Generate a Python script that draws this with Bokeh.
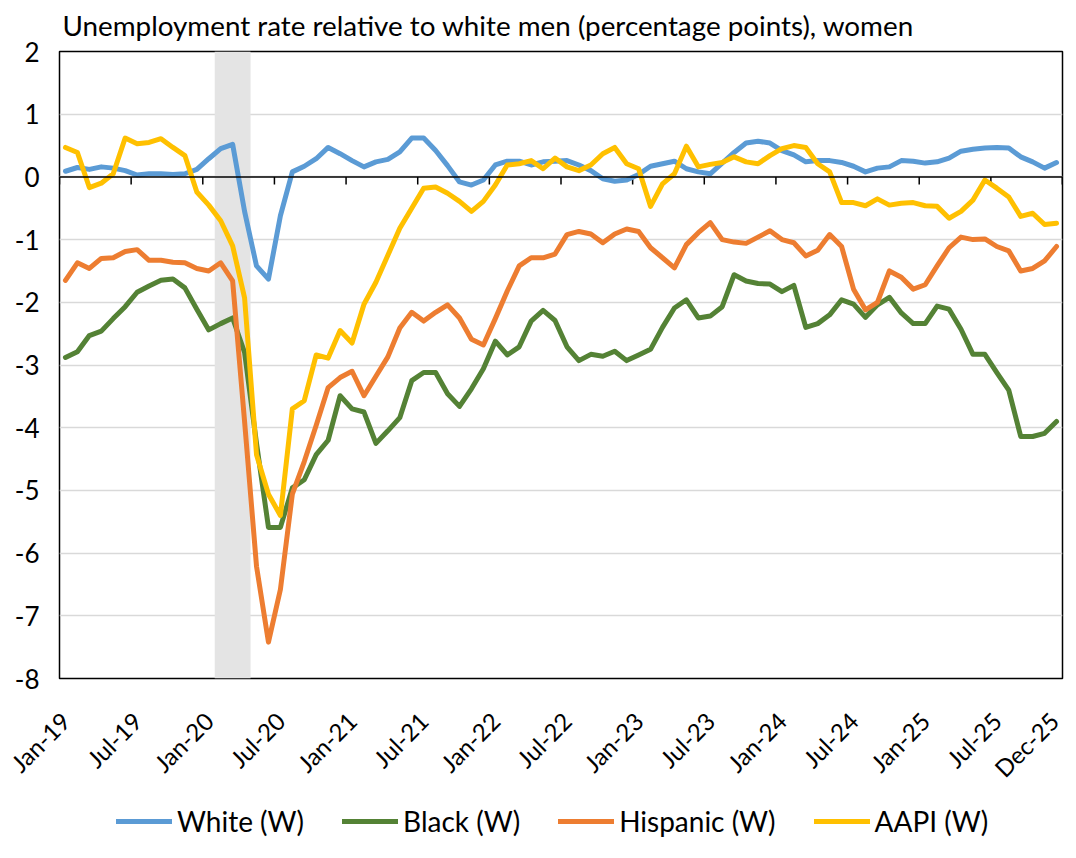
import pandas as pd
from bokeh.plotting import figure
from bokeh.layouts import column
from bokeh.models import BoxAnnotation, Span, Legend, LegendItem, FixedTicker, ColumnDataSource
from bokeh.embed import file_html
from bokeh.resources import INLINE

# ---------------- data ----------------
months = [d.strftime("%b-%y") for d in pd.date_range("2019-01-01", "2025-12-01", freq="MS")]
tick_labels = ["Jan-19", "Jul-19", "Jan-20", "Jul-20", "Jan-21", "Jul-21", "Jan-22", "Jul-22",
               "Jan-23", "Jul-23", "Jan-24", "Jul-24", "Jan-25", "Jul-25", "Dec-25"]
y_ticks = [2, 1, 0, -1, -2, -3, -4, -5, -6, -7, -8]
y_tick_labels = ["2", "1", "0", "-1", "-2", "-3", "-4", "-5", "-6", "-7", "-8"]
recession = ["Feb-20", "Apr-20"]

white = [0.09, 0.15, 0.12, 0.16, 0.14, 0.10, 0.03, 0.05, 0.05, 0.04, 0.05, 0.12,
         0.29, 0.45, 0.52, -0.55, -1.42, -1.63, -0.62, 0.08, 0.17, 0.29, 0.47, 0.37,
         0.26, 0.16, 0.24, 0.28, 0.40, 0.62, 0.62, 0.42, 0.18, -0.08, -0.13, -0.05,
         0.19, 0.25, 0.25, 0.19, 0.24, 0.25, 0.26, 0.19, 0.10, -0.03, -0.07, -0.05,
         0.04, 0.17, 0.21, 0.25, 0.13, 0.08, 0.05, 0.22, 0.39, 0.54, 0.57, 0.54,
         0.42, 0.35, 0.24, 0.26, 0.26, 0.23, 0.17, 0.08, 0.14, 0.16, 0.26, 0.25,
         0.22, 0.24, 0.30, 0.41, 0.44, 0.46, 0.47, 0.46, 0.32, 0.24, 0.14, 0.23]

black = [-2.88, -2.79, -2.53, -2.46, -2.26, -2.07, -1.84, -1.74, -1.65, -1.63, -1.77, -2.11,
         -2.44, -2.34, -2.25, -2.80, -4.25, -5.59, -5.59, -4.96, -4.83, -4.43, -4.20, -3.49,
         -3.70, -3.75, -4.25, -4.05, -3.84, -3.25, -3.12, -3.12, -3.46, -3.66, -3.38, -3.06,
         -2.62, -2.84, -2.71, -2.30, -2.13, -2.29, -2.71, -2.93, -2.83, -2.86, -2.78, -2.93,
         -2.84, -2.75, -2.40, -2.09, -1.96, -2.25, -2.22, -2.07, -1.56, -1.66, -1.70, -1.71,
         -1.83, -1.73, -2.40, -2.34, -2.20, -1.96, -2.03, -2.24, -2.04, -1.92, -2.17, -2.34,
         -2.34, -2.06, -2.11, -2.43, -2.83, -2.83, -3.12, -3.40, -4.14, -4.14, -4.09, -3.90]

hispanic = [-1.65, -1.37, -1.46, -1.30, -1.29, -1.19, -1.16, -1.33, -1.33, -1.36, -1.37, -1.46,
            -1.50, -1.37, -1.66, -3.90, -6.21, -7.42, -6.58, -5.06, -4.54, -3.96, -3.36, -3.20,
            -3.10, -3.49, -3.18, -2.87, -2.41, -2.16, -2.30, -2.16, -2.04, -2.25, -2.59, -2.68,
            -2.26, -1.82, -1.42, -1.29, -1.29, -1.23, -0.92, -0.87, -0.91, -1.05, -0.91, -0.83,
            -0.87, -1.13, -1.29, -1.45, -1.08, -0.89, -0.73, -1.00, -1.04, -1.06, -0.96, -0.86,
            -1.00, -1.05, -1.26, -1.17, -0.92, -1.11, -1.79, -2.12, -2.00, -1.50, -1.60, -1.79,
            -1.72, -1.42, -1.13, -0.96, -1.00, -0.99, -1.11, -1.18, -1.50, -1.46, -1.34, -1.11]

aapi = [0.47, 0.39, -0.17, -0.10, 0.05, 0.62, 0.53, 0.55, 0.61, 0.47, 0.34, -0.24,
        -0.45, -0.70, -1.10, -1.93, -4.43, -5.06, -5.40, -3.70, -3.57, -2.84, -2.89, -2.45,
        -2.65, -2.03, -1.68, -1.25, -0.82, -0.50, -0.18, -0.16, -0.26, -0.39, -0.55, -0.39,
        -0.13, 0.19, 0.21, 0.26, 0.13, 0.30, 0.16, 0.10, 0.19, 0.37, 0.47, 0.21,
        0.13, -0.47, -0.11, 0.05, 0.49, 0.16, 0.20, 0.23, 0.32, 0.24, 0.21, 0.34,
        0.45, 0.50, 0.47, 0.21, 0.08, -0.41, -0.41, -0.46, -0.35, -0.45, -0.42, -0.41,
        -0.46, -0.47, -0.66, -0.55, -0.37, -0.05, -0.18, -0.32, -0.63, -0.58, -0.76, -0.74]

series = [("White (W)", white, "#5B9BD5"),
          ("Black (W)", black, "#548235"),
          ("Hispanic (W)", hispanic, "#ED7D31"),
          ("AAPI (W)", aapi, "#FFC000")]

# ---------------- main figure ----------------
FONT = "Lato"
n = len(months)
x = list(range(n))

p = figure(width=1064, height=798, output_backend="svg", toolbar_location=None,
           x_range=(-0.5, n - 0.5), y_range=(min(y_ticks), max(y_ticks)),
           min_border_left=59, min_border_right=2, min_border_top=44, min_border_bottom=120)

p.title.text = "Unemployment rate relative to white men (percentage points), women"
p.title.text_font = FONT
p.title.text_font_size = "27.8px"
p.title.text_font_style = "normal"
p.title.text_color = "black"
p.title.offset = 3
p.title.standoff = 16
p.title.vertical_align = "top"

p.outline_line_color = "black"
p.outline_line_width = 1.5
p.background_fill_color = "white"
p.border_fill_color = "white"

p.xgrid.grid_line_color = None
p.ygrid.grid_line_color = "#d9d9d9"
p.ygrid.grid_line_width = 1.5

# recession shading
rs, re_ = months.index(recession[0]), months.index(recession[1])
p.add_layout(BoxAnnotation(left=rs - 0.5, right=re_ + 0.5, fill_color="#e4e4e4",
                           fill_alpha=1.0, line_color=None, level="underlay"))

# axes
p.yaxis.ticker = FixedTicker(ticks=y_ticks)
p.yaxis.major_label_overrides = {v: s for v, s in zip(y_ticks, y_tick_labels)}
p.yaxis.axis_line_color = None
p.yaxis.major_tick_line_color = None
p.yaxis.minor_tick_line_color = None
p.yaxis.major_label_text_font = FONT
p.yaxis.major_label_text_font_size = "26px"
p.yaxis.major_label_text_color = "black"
p.yaxis.major_label_standoff = 14

tick_pos = [months.index(t) for t in tick_labels]
p.xaxis.ticker = FixedTicker(ticks=tick_pos)
p.xaxis.major_label_overrides = {i: t for i, t in zip(tick_pos, tick_labels)}
p.xaxis.major_label_orientation = 0.785398
p.xaxis.axis_line_color = None
p.xaxis.major_tick_line_color = None
p.xaxis.minor_tick_line_color = None
p.xaxis.major_label_text_font = FONT
p.xaxis.major_label_text_font_size = "24px"
p.xaxis.major_label_text_color = "black"
p.xaxis.major_label_standoff = 32

# zero axis line with category-boundary tick marks every 6 months
p.add_layout(Span(location=0, dimension="width", line_color="black", line_width=1.5))
bounds = [b - 0.5 for b in range(0, n + 1, 6)] + [n - 0.5]
p.segment(x0=bounds, y0=[0] * len(bounds), x1=bounds, y1=[-0.12] * len(bounds),
          line_color="black", line_width=1.5)

for name, vals, col in series:
    src = ColumnDataSource(dict(x=x, y=vals))
    p.line("x", "y", source=src, line_color=col, line_width=5,
           line_join="round", line_cap="round")

# ---------------- legend strip (below the chart) ----------------
lg = figure(width=1064, height=44, output_backend="svg", toolbar_location=None,
            x_axis_type=None, y_axis_type=None, min_border=0,
            x_range=(0, 1), y_range=(0, 1))
lg.outline_line_color = None
lg.grid.grid_line_color = None
lg.background_fill_color = "white"
lg.border_fill_color = "white"

items = []
for name, vals, col in series:
    # legend key only: a single undefined point, so nothing is drawn in the strip itself
    r = lg.line(x=[float("nan")], y=[float("nan")], line_color=col, line_width=5,
                line_cap="round")
    items.append(LegendItem(label=name, renderers=[r]))

legend = Legend(items=items, orientation="horizontal", location=(57, 4),
                label_text_font=FONT, label_text_font_size="28px", label_text_color="black",
                glyph_width=56, glyph_height=20, label_standoff=5, spacing=38,
                border_line_color=None, background_fill_alpha=0, margin=0, padding=0)
lg.add_layout(legend, "center")

layout = column(p, lg, spacing=0)
open("out.html", "w").write(file_html(layout, INLINE))
